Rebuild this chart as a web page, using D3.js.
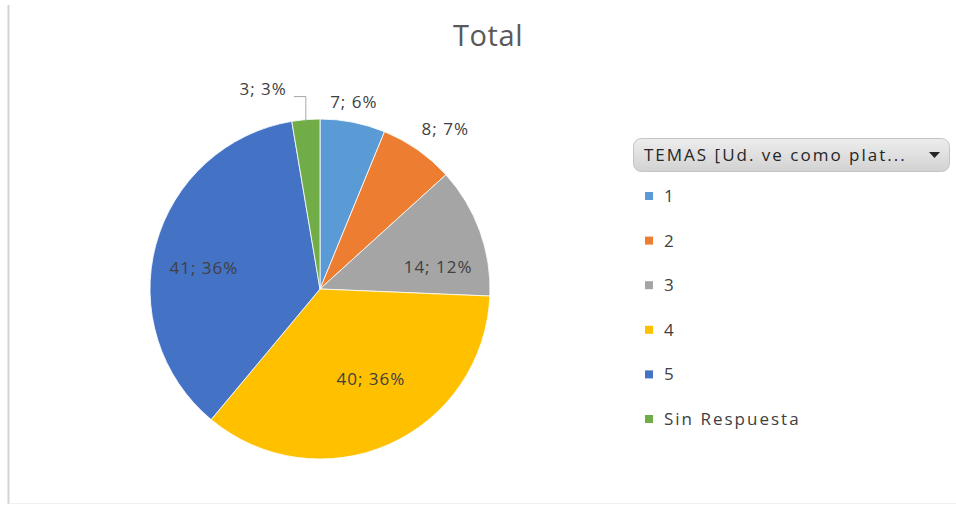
<!DOCTYPE html>
<html>
<head>
<meta charset="utf-8">
<script src="https://cdn.jsdelivr.net/npm/d3@7"></script>
<style>
  body { margin: 0; background: #fff; }
  text { font-family: "Open Sans", "Noto Sans", sans-serif; }
</style>
</head>
<body>
<div id="chart"></div>
<script>
var svgWidth = 956;
var svgHeight = 512;

// chart values
var categories = ["1", "2", "3", "4", "5", "Sin Respuesta"];
var counts = [7, 8, 14, 40, 41, 3];
var pctLabels = ["6%", "7%", "12%", "36%", "36%", "3%"];
var colors = ["#5B9BD5", "#ED7D31", "#A5A5A5", "#FFC000", "#4472C4", "#70AD47"];
var legendTitle = "TEMAS [Ud. ve como plat...";

var cx = 320, cy = 289, radius = 170;

var svg = d3.select("#chart")
  .append("svg")
  .attr("width", svgWidth)
  .attr("height", svgHeight);

// frame line on the left / bottom
svg.append("line")
  .attr("x1", 8.5).attr("y1", 5).attr("x2", 8.5).attr("y2", 504)
  .attr("stroke", "#d4d4d4").attr("stroke-width", 2);
svg.append("line")
  .attr("x1", 9).attr("y1", 503.5).attr("x2", 956).attr("y2", 503.5)
  .attr("stroke", "#f0f0f0").attr("stroke-width", 1);

// title
svg.append("text")
  .attr("x", 488)
  .attr("y", 46)
  .attr("text-anchor", "middle")
  .attr("font-size", 29)
  .attr("letter-spacing", 0.6)
  .attr("fill", "#595959")
  .text("Total");

var data = categories.map(function (c, i) {
  return { cat: c, value: counts[i], pct: pctLabels[i], color: colors[i] };
});

var pie = d3.pie().value(d => d.value).sort(null);
var arc = d3.arc().innerRadius(0).outerRadius(radius);
var arcs = pie(data);

var pieGroup = svg.append("g")
  .attr("transform", `translate(${cx}, ${cy})`);

pieGroup.selectAll("path")
  .data(arcs)
  .enter()
  .append("path")
  .attr("d", arc)
  .attr("fill", d => d.data.color)
  .attr("stroke", "#fff")
  .attr("stroke-width", 0.8);

// label positions: inside for big slices, outside for small ones
var labelPos = {
  "1": { r: 1.12, shift: [-3, 0] },
  "2": { r: 1.15, shift: [13, 0] },
  "3": { r: 0.72, shift: [3, 20] },
  "4": { r: 0.58, shift: [11, 0] },
  "5": { r: 0.72, shift: [2, 11] },
  "Sin Respuesta": { r: 1.0, shift: [0, 0] }
};

arcs.forEach(function (d) {
  var a = (d.startAngle + d.endAngle) / 2;
  var lp = labelPos[d.data.cat];
  var x = Math.sin(a) * radius * lp.r + lp.shift[0];
  var y = -Math.cos(a) * radius * lp.r + lp.shift[1];
  var anchor = "middle";
  if (d.data.cat === "Sin Respuesta") {
    // leader line to label on the left
    var ex = Math.sin(a) * radius;
    var ey = -Math.cos(a) * radius + 2;
    var bx = ex, by = ey - 25;
    pieGroup.append("polyline")
      .attr("points", [[ex, ey], [bx, by], [bx - 12, by]].map(p => p.join(",")).join(" "))
      .attr("fill", "none")
      .attr("stroke", "#a6a6a6")
      .attr("stroke-width", 1);
    x = bx - 19;
    y = by - 8;
    anchor = "end";
  }
  pieGroup.append("text")
    .attr("x", x)
    .attr("y", y)
    .attr("dy", "0.35em")
    .attr("text-anchor", anchor)
    .attr("font-size", 17)
    .attr("letter-spacing", 1)
    .attr("fill", "#404040")
    .text(d.data.value + "; " + d.data.pct);
});

// legend
var legend = svg.append("g");

var defs = svg.append("defs");
var grad = defs.append("linearGradient")
  .attr("id", "btnGrad")
  .attr("x1", 0).attr("y1", 0).attr("x2", 0).attr("y2", 1);
grad.append("stop").attr("offset", "0%").attr("stop-color", "#ededed");
grad.append("stop").attr("offset", "100%").attr("stop-color", "#d2d2d2");

legend.append("rect")
  .attr("x", 633.5).attr("y", 138.5)
  .attr("width", 316).attr("height", 33)
  .attr("rx", 8).attr("ry", 8)
  .attr("fill", "url(#btnGrad)")
  .attr("stroke", "#c4c4c4");

legend.append("text")
  .attr("x", 644).attr("y", 155)
  .attr("dy", "0.35em")
  .attr("font-size", 17)
  .attr("letter-spacing", 2)
  .attr("fill", "#262626")
  .text(legendTitle);

legend.append("path")
  .attr("d", "M929,152 L940,152 L934.5,158 Z")
  .attr("fill", "#262626");

var itemY = d3.scaleLinear().domain([0, categories.length - 1]).range([196, 419]);

var items = legend.selectAll("g.item")
  .data(data)
  .enter()
  .append("g")
  .attr("class", "item")
  .attr("transform", (d, i) => `translate(645, ${itemY(i)})`);

items.append("rect")
  .attr("x", 0).attr("y", -4)
  .attr("width", 8).attr("height", 8)
  .attr("fill", d => d.color);

items.append("text")
  .attr("x", 19).attr("y", 0)
  .attr("dy", "0.35em")
  .attr("font-size", 17)
  .attr("letter-spacing", 2)
  .attr("fill", "#404040")
  .text(d => d.cat);
</script>
</body>
</html>
